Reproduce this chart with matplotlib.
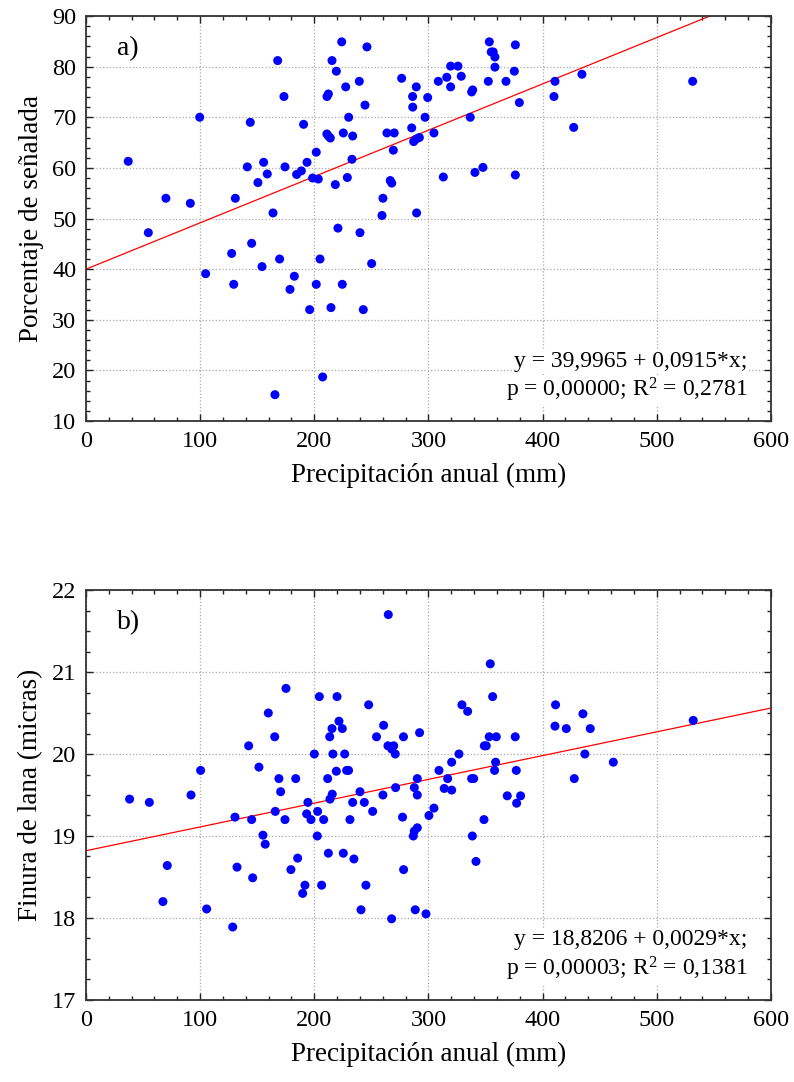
import numpy as np
import matplotlib
matplotlib.use("Agg")
import matplotlib.pyplot as plt
from matplotlib.ticker import MultipleLocator

# =========================
# DATA
# =========================
prec_a = [37, 54.6, 70, 91.4, 99.6, 104.8, 127.6, 129.4, 130.8, 141.3, 143.9, 145.1,
          150.6, 154.2, 155.6, 158.8, 163.8, 165.5, 167.9, 169.6, 173.4, 174.3, 178.7,
          182.5, 184.5, 188.6, 190.6, 193.6, 195.9, 198.5, 201.7, 201.7, 203.5, 205.0,
          207.3, 211.0, 212.3, 214.0, 211.1, 212.3, 214.6, 215.5, 218.4, 219.3, 220.7,
          224.0, 224.5, 225.4, 227.5, 228.9, 230.1, 233.0, 233.6, 239.4, 240.0, 242.9,
          244.4, 246.1, 250.2, 259.3, 260.1, 263.6, 270.0, 266.5, 267.8, 269.2, 276.5,
          285.3, 286.1, 289.3, 286.2, 287.0, 289.3, 292.0, 289.6, 297.0, 299.3, 304.8,
          308.6, 313.0, 316.0, 319.4, 325.8, 319.4, 328.7, 336.6, 337.8, 338.7, 340.7,
          347.7, 352.4, 353.3, 355.0, 356.7, 358.2, 358.2, 367.9, 375.2, 376.1, 376.1,
          379.6, 409.9, 410.8, 427.2, 434.4, 531.4]
senal_a = [61.3, 47.2, 54.0, 53.0, 70.0, 39.1, 43.1, 37.0, 54.0, 60.2, 69.0, 45.1,
           57.1, 40.5, 61.1, 58.8, 51.1, 15.2, 81.2, 42.0, 74.1, 60.2, 36.0,
           38.6, 58.7, 59.4, 68.6, 61.1, 32.0, 58.0, 63.1, 37.0, 57.8, 42.0,
           18.7, 66.7, 66.3, 65.9, 74.1, 74.6, 32.4, 81.2, 56.7, 79.1, 48.1,
           84.9, 37.0, 66.9, 76.0, 58.1, 70.0, 61.7, 66.3, 77.1, 47.2, 32.0,
           72.4, 83.9, 41.1, 50.6, 54.0, 66.9, 66.9, 57.5, 57.0, 63.5, 77.7,
           67.9, 74.1, 76.0, 72.0, 65.2, 65.7, 66.0, 51.1, 70.0, 73.9, 66.9,
           77.1, 58.2, 77.9, 80.1, 80.1, 76.0, 78.1, 70.0, 75.0, 75.4, 59.1,
           60.1, 77.1, 84.9, 82.9, 82.9, 81.9, 79.9, 77.1, 79.1, 84.3, 58.6,
           72.9, 74.1, 77.1, 68.0, 78.5, 77.1]

prec_b = [38.2, 55.5, 67.4, 71.2, 92.0, 100.4, 105.7, 128.5, 130.5, 132.3, 142.5, 145.1,
          146.0, 151.5, 155.0, 157.0, 159.7, 165.3, 165.8, 169.0, 170.5, 174.3, 175.2,
          179.5, 183.7, 185.4, 189.8, 191.8, 193.3, 194.4, 197.1, 200.0, 202.6, 202.9,
          204.4, 206.4, 208.2, 211.7, 212.3, 213.5, 213.7, 215.5, 215.7, 216.3, 219.3,
          219.9, 221.6, 224.5, 225.4, 226.6, 228.3, 230.0, 231.2, 233.6, 234.7, 240.0,
          240.9, 243.8, 245.2, 247.6, 251.1, 254.5, 260.1, 260.7, 264.5, 264.8, 267.7,
          267.8, 269.5, 270.9, 271.2, 277.3, 278.1, 278.2, 286.7, 287.6, 287.6, 288.4,
          290.2, 290.2, 290.2, 292.2, 297.8, 300.4, 304.8, 309.2, 313.8, 316.8, 320.3,
          320.3, 326.7, 329.3, 334.3, 337.8, 338.4, 339.6, 341.6, 348.6, 348.9, 350.6,
          353.2, 354.1, 356.2, 357.9, 358.8, 359.4, 369.0, 376.0, 376.9, 377.2, 380.7,
          410.8, 411.3, 420.7, 427.7, 435.3, 437.0, 441.7, 461.9, 531.9]
finura_b = [19.45, 19.41, 18.20, 18.64, 19.50, 19.80, 18.11, 17.89, 19.23, 18.62, 20.10, 19.20,
            18.49, 19.84, 19.01, 18.90, 20.50, 20.21, 19.30, 19.70, 19.54, 19.20, 20.80,
            18.59, 19.70, 18.73, 18.30, 18.40, 19.27, 19.41, 19.20, 20.00, 19.00, 19.30,
            20.70, 18.40, 19.20, 19.70, 18.79, 20.21, 19.45, 20.31, 19.51, 20.00, 19.79,
            20.70, 20.40, 20.31, 18.79, 20.00, 19.80, 19.80, 19.20, 19.41, 18.72, 19.54,
            18.10, 19.41, 18.40, 20.60, 19.30, 20.21, 19.50, 20.35, 20.10, 21.70, 17.99,
            20.06, 20.10, 20.00, 19.59, 19.23, 20.21, 18.59, 19.00, 19.06, 19.59, 18.10,
            19.70, 19.50, 19.10, 20.26, 18.05, 19.25, 19.34, 19.80, 19.58, 19.70, 19.90,
            19.56, 20.00, 20.60, 20.52, 19.70, 19.00, 19.70, 18.69, 19.20, 20.10, 20.10,
            20.21, 21.10, 20.70, 19.80, 19.90, 20.21, 19.49, 20.21, 19.80, 19.40, 19.49,
            20.34, 20.60, 20.31, 19.70, 20.49, 20.00, 20.31, 19.90, 20.41]

# regression coefficients printed on the chart
coef_a = (39.9965, 0.0915)
coef_b = (18.8206, 0.0029)
eq_a = ["y = 39,9965 + 0,0915*x;", "p = 0,00000; R$^2$ = 0,2781"]
eq_b = ["y = 18,8206 + 0,0029*x;", "p = 0,00003; R$^2$ = 0,1381"]

plt.rcParams["font.family"] = ["Liberation Serif", "DejaVu Serif"]
plt.rcParams["mathtext.fontset"] = "custom"
plt.rcParams["mathtext.rm"] = "Liberation Serif"
plt.rcParams["mathtext.default"] = "rm"

fig = plt.figure(figsize=(7.94, 10.82), dpi=100)
ax_a = fig.add_axes([0.1083, 0.6109, 0.8627, 0.3743])
ax_b = fig.add_axes([0.1083, 0.0758, 0.8627, 0.3789])

panels = [
    (ax_a, prec_a, senal_a, coef_a, eq_a, "a)", (10, 90), 10, 2, "Porcentaje de señalada"),
    (ax_b, prec_b, finura_b, coef_b, eq_b, "b)", (17, 22), 1, 0.25, "Finura de lana (micras)"),
]

for ax, xs, ys, coef, eq, tag, ylim, ymaj, ymin, ylab in panels:
    xx = np.linspace(0, 600, 200)
    ax.plot(xx, coef[0] + coef[1] * xx, color="red", lw=0.9, zorder=2)
    ax.scatter(xs, ys, s=42, color="#0000ff", edgecolors="none", zorder=3)

    ax.set_xlim(0, 600)
    ax.set_ylim(*ylim)
    ax.xaxis.set_major_locator(MultipleLocator(100))
    ax.xaxis.set_minor_locator(MultipleLocator(20))
    ax.yaxis.set_major_locator(MultipleLocator(ymaj))
    ax.yaxis.set_minor_locator(MultipleLocator(ymin))
    ax.tick_params(which="both", direction="in", top=True, right=True,
                   labelsize=17.5, color="#222222", pad=7)
    ax.tick_params(which="major", length=5, width=1)
    ax.tick_params(which="minor", length=3, width=1)
    ax.grid(True, which="major", linestyle=":", color="#aaaaaa", lw=0.9)
    ax.set_axisbelow(True)
    for sp in ax.spines.values():
        sp.set_linewidth(1.3)
        sp.set_color("#333333")

    ax.set_xlabel("Precipitación anual (mm)", fontsize=19.5, labelpad=8)
    ax.set_ylabel(ylab, fontsize=19.5, labelpad=6)
    ax.text(0.045, 0.95, tag, transform=ax.transAxes, fontsize=20, va="top")
    ax.text(0.966, 0.134, eq[0], transform=ax.transAxes, fontsize=17, ha="right",
            va="baseline", bbox=dict(facecolor="white", edgecolor="none", pad=1))
    ax.text(0.966, 0.060, eq[1], transform=ax.transAxes, fontsize=17, ha="right",
            va="baseline", bbox=dict(facecolor="white", edgecolor="none", pad=1))

fig.savefig("out.png", dpi=100)
